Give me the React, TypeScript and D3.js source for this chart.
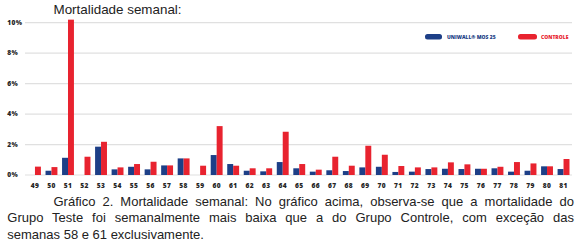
import React, { useEffect, useRef } from "react";
import * as d3 from "d3";

const weeks = ["49","50","51","52","53","54","55","56","57","58","59","60","61","62","63","64","65","66","67","68","69","70","71","72","73","74","75","76","77","78","79","80","81"];
const uniwall = [0,0.28,1.13,0,1.86,0.37,0.54,0.37,0.63,1.09,0,1.31,0.72,0.28,0.24,0.85,0.44,0.22,0.31,0.26,0.5,0.54,0.2,0.22,0.39,0.41,0.39,0.41,0.44,0.22,0.28,0.57,0.39];
const controle = [0.55,0.52,10.2,1.2,2.18,0.5,0.72,0.87,0.63,1.09,0.61,3.21,0.61,0.44,0.44,2.84,0.72,0.35,1.2,0.61,1.92,1.33,0.59,0.5,0.5,0.83,0.7,0.41,0.54,0.85,0.76,0.57,1.05];
const yTicks = [0, 2, 4, 6, 8, 10];
const seriesNames = ["UNIWALL® MOS 25", "CONTROLE"];
const seriesColors = ["#1d3f87", "#e8232f"];
const title = "Mortalidade semanal:";
const captionLines = [
  "Gráfico 2. Mortalidade semanal: No gráfico acima, observa-se que a mortalidade do",
  "Grupo Teste foi semanalmente mais baixa que a do Grupo Controle, com exceção das",
  "semanas 58 e 61 exclusivamente.",
];

const W = 579, H = 251;

export default function App() {
  const capRef = useRef<SVGGElement>(null);
  const x = d3.scaleBand<string>().domain(weeks).range([26.7, 571.8]).paddingInner(0.28).paddingOuter(0.14);
  const xs = d3.scaleBand<number>().domain([0, 1]).range([0, x.bandwidth()]);
  const y = d3.scaleLinear().domain([0, 10]).range([175, 22.7]);
  const series = [uniwall, controle];

  const capStarts = [53.5, 7.3, 7.3];
  const capEnd = 574;
  const capY = [205.5, 222, 238.5];

  useEffect(() => {
    const g = capRef.current;
    if (!g) return;
    const texts = g.querySelectorAll("text");
    texts.forEach((t, i) => {
      if (i > 1) return;
      const el = t as SVGTextElement;
      el.setAttribute("word-spacing", "0");
      const len = el.getComputedTextLength();
      const spaces = (captionLines[i].match(/ /g) || []).length;
      const target = capEnd - capStarts[i];
      el.setAttribute("word-spacing", String((target - len) / spaces));
    });
  }, []);

  const tickFont = { fontFamily: "'Open Sans', sans-serif", fontWeight: 800, fontSize: 6.6, letterSpacing: 0.4, fill: "#262626" } as const;

  return (
    <svg width={W} height={H} style={{ position: "absolute", left: 0, top: 0, background: "#fff" }}>
      <rect width={W} height={H} fill="#fff" />
      <text x={53.5} y={14.3} fontFamily="'Liberation Sans', Arial, sans-serif" fontSize={13.4} fill="#222">{title}</text>
      {yTicks.map((t) => (
        <g key={t}>
          <line x1={25} x2={572} y1={y(t)} y2={y(t)} stroke="#e0e0e0" strokeWidth={1.2} />
          <text x={7.3} y={y(t) + 2.3} {...tickFont}>{t}%</text>
        </g>
      ))}
      {weeks.map((w, i) => (
        <g key={w}>
          {series.map((s, k) => (
            s[i] > 0 ? (
              <rect key={k} x={(x(w) as number) + (xs(k) as number)} width={xs.bandwidth()} y={y(s[i])} height={y(0) - y(s[i])} fill={seriesColors[k]} />
            ) : null
          ))}
          <text x={(x(w) as number) + x.bandwidth() / 2} y={187.8} textAnchor="middle" {...tickFont}>{w}</text>
        </g>
      ))}
      <g>
        <rect x={425} y={34} width={17} height={5.5} rx={2.5} fill={seriesColors[0]} />
        <text x={447} y={38.8} fontFamily="'Open Sans', sans-serif" fontWeight={800} fontSize={5} fill={seriesColors[0]}>{seriesNames[0]}</text>
        <rect x={518} y={34} width={19} height={5.5} rx={2.5} fill={seriesColors[1]} />
        <text x={541} y={38.8} fontFamily="'Open Sans', sans-serif" fontWeight={800} fontSize={5} fill={seriesColors[1]}>{seriesNames[1]}</text>
      </g>
      <g ref={capRef}>
        {captionLines.map((l, i) => (
          <text key={i} x={capStarts[i]} y={capY[i]} fontFamily="'Liberation Sans', Arial, sans-serif" fontSize={13} fill="#222">{l}</text>
        ))}
      </g>
    </svg>
  );
}
